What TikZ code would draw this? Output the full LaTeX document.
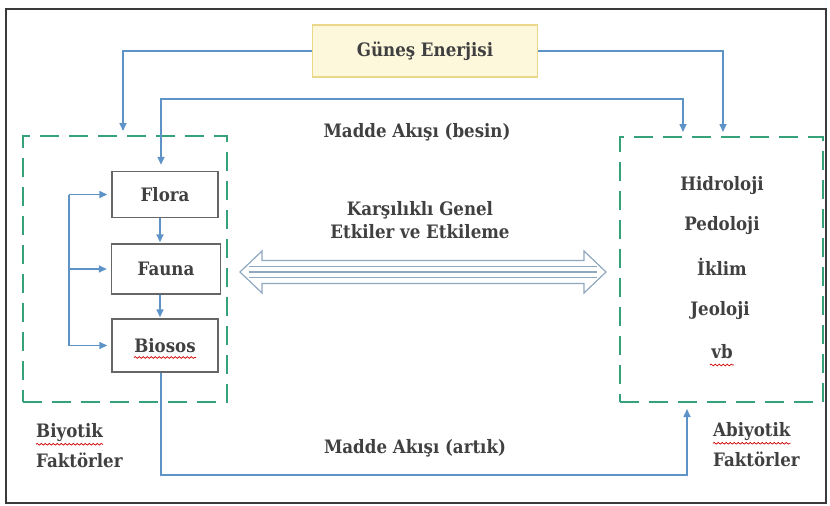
\documentclass[tikz,border=0pt]{standalone}
\usepackage{fontspec}
\setmainfont{DejaVu Serif Condensed}
\usetikzlibrary{arrows.meta,calc,decorations.pathmorphing}
\definecolor{flow}{HTML}{5E93C8}
\definecolor{zone}{HTML}{35A27A}
\definecolor{ink}{HTML}{404040}
\definecolor{sunfill}{HTML}{FDF7DC}
\definecolor{sunline}{HTML}{EAD78A}
\definecolor{twin}{HTML}{8FA8BF}
\begin{document}
\begin{tikzpicture}[x=1pt,y=-1pt,
  txt/.style={font=\bfseries\fontsize{18.5}{22}\selectfont, text=ink},
  flowline/.style={draw=flow, line width=1.6pt, -{Triangle[length=8pt,width=7pt]}},
  flowtwo/.style={draw=flow, line width=1.6pt, {Triangle[length=8pt,width=7pt]}-{Triangle[length=8pt,width=7pt]}},
  zonebox/.style={draw=zone, line width=2.4pt, dash pattern=on 19pt off 10pt, minimum width=#1},
  itembox/.style={draw=ink!80, line width=1.4pt, fill=white, minimum width=106pt, minimum height=48pt, txt},
  squiggle/.style={draw=red!80!black, line width=0.7pt, decorate, decoration={snake, segment length=4pt, amplitude=0.9pt}}
]
\useasboundingbox (0,0) rectangle (830,506);
% outer frame
\draw[ink!90!black, line width=2.4pt] (6,9) rectangle (826,503);

% source box
\node[draw=sunline, fill=sunfill, line width=1.4pt, minimum width=225pt, minimum height=52pt, txt] (sun) at (425,51) {Güneş Enerjisi};

% dashed zones
\node[zonebox=204pt, minimum height=266pt] (lbox) at (125,269) {};
\node[zonebox=203pt, minimum height=265pt] (rbox) at (721.5,269.5) {};

% biotic components
\node[itembox, minimum height=46pt] (flora) at (165,194.5) {Flora};
\node[itembox, minimum width=109pt, minimum height=50pt] (fauna) at (166,269) {Fauna};
\node[itembox, minimum height=53pt] (biosos) at (165,345.5) {Biosos};
\draw[squiggle] ($(biosos.center)+(-31,12)$) -- ($(biosos.center)+(31,12)$);

% abiotic components
\node[txt] (hid) at (722,186) {Hidroloji};
\node[txt] (ped) at (722,226) {Pedoloji};
\node[txt] (ikl) at (722,267) {İklim};
\node[txt] (jeo) at (720,311) {Jeoloji};
\node[txt] (vb)  at (722,352) {vb};
\draw[squiggle] ($(vb.center)+(-12,13)$) -- ($(vb.center)+(12,13)$);

% captions
\node[txt] (madde1) at (417,132) {Madde Akışı (besin)};
\node[txt] (madde2) at (415,448) {Madde Akışı (artık)};
\node[txt, align=center] (karsi) at (420,220) {Karşılıklı Genel\\[1pt]Etkiler ve Etkileme};
\node[txt, anchor=west, inner sep=0pt] (biyo) at (36,433) {Biyotik};
\node[txt, anchor=west, inner sep=0pt] (biyof) at (36,460) {Faktörler};
\node[txt, anchor=west, inner sep=0pt] (abiyo) at (713,432) {Abiyotik};
\node[txt, anchor=west, inner sep=0pt] (abiyof) at (713,459) {Faktörler};
\draw[squiggle] ($(biyo.south west)+(0,2)$) -- ($(biyo.south east)+(0,2)$);
\draw[squiggle] ($(abiyo.south west)+(0,2)$) -- ($(abiyo.south east)+(0,2)$);

% solar energy to both zones
\coordinate (sunL) at (123,136);
\coordinate (sunR) at (723,137);
\draw[flowline, shorten >=5pt] (sun.west) -| (sunL);
\draw[flowline, shorten >=5pt] (sun.east) -| (sunR);

% matter flow (food) between the zones
\coordinate (besinY) at (0,99);
\coordinate (besinR) at (683,137);
\coordinate (flTop) at ([xshift=-4pt]flora.north);
\draw[flowtwo, shorten <=6pt, shorten >=5pt]
  (flTop) -- (flTop |- besinY) -- (besinR |- besinY) -- (besinR);

% matter flow (waste) back to the abiotic zone
\coordinate (artikY) at (0,475);
\coordinate (artikR) at (687,402);
\coordinate (biBot) at ([xshift=-4pt]biosos.south);
\draw[flowline, shorten >=7pt]
  (biBot) -- (biBot |- artikY) -- (artikR |- artikY) -- (artikR);

% food chain inside the biotic zone
\draw[flowline, shorten >=1pt] ([xshift=-5pt]flora.south) -- ([xshift=-6pt]fauna.north);
\draw[flowline, shorten >=1pt] ([xshift=-6pt]fauna.south) -- ([xshift=-5pt]biosos.north);

% bracket feeding the three components
\coordinate (b1) at (69,0 |- flora.west);
\coordinate (b2) at (69,0 |- fauna.west);
\coordinate (b3) at (69,0 |- biosos.west);
\draw[draw=flow, line width=1.6pt] (b1) -- (b3);
\draw[flowline, shorten >=4pt] (b1) -- (flora.west);
\draw[flowline, shorten >=4pt] (b2) -- (fauna.west);
\draw[flowline, shorten >=4pt] (b3) -- (biosos.west);

% two-headed block arrow: mutual interactions
\coordinate (tipL) at (240,272);
\coordinate (tipR) at (606,272);
\draw[twin, line width=1.2pt, fill=white, line join=miter]
  (tipL) -- (262,251) -- (262,260.5) -- (584,260.5) -- (584,251) -- (tipR)
  -- (584,293) -- (584,283.5) -- (262,283.5) -- (262,293) -- cycle;
\foreach \yy in {266.2,272,277.8}
  \draw[twin, line width=1.1pt] (249,\yy) -- (597,\yy);
\end{tikzpicture}
\end{document}
